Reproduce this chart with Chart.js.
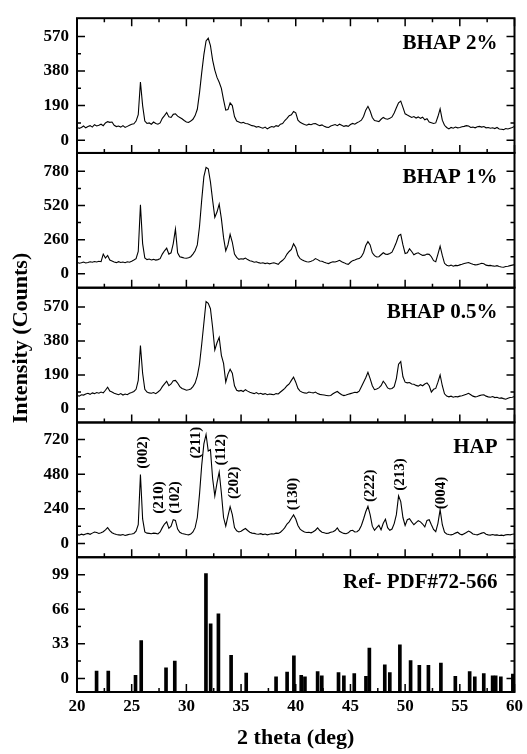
<!DOCTYPE html>
<html>
<head>
<meta charset="utf-8">
<title>XRD patterns</title>
<script src="https://cdn.jsdelivr.net/npm/chart.js@4.4.1/dist/chart.umd.min.js"></script>
<style>
  html, body { margin: 0; padding: 0; background: #fff; }
  #wrap { width: 527px; height: 754px; }
</style>
</head>
<body>
<div id="wrap"><canvas id="xrd" width="527" height="754"></canvas></div>
<script>
// scan grid (2 theta, deg)
const thetaStart = 20;
const thetaStep = 0.2;

// intensities, one value per 0.2 deg from 20 to 60
const bhap2 = [
  72, 65, 70, 78, 68, 75, 80, 72, 85, 78,
  82, 88, 80, 95, 102, 98, 100, 82, 75, 78,
  72, 80, 70, 76, 82, 88, 90, 105, 140, 320,
  190, 105, 92, 95, 88, 100, 92, 88, 95, 120,
  135, 152, 128, 125, 142, 145, 132, 125, 118, 108,
  100, 98, 105, 115, 135, 170, 260, 370, 470, 545,
  560, 520, 440, 385, 345, 318, 285, 222, 165, 168,
  205, 190, 130, 105, 100, 95, 98, 92, 90, 85,
  80, 78, 72, 75, 70, 66, 72, 62, 70, 75,
  72, 80, 76, 88, 92, 108, 120, 135, 140, 158,
  150, 110, 98, 92, 86, 82, 88, 85, 90, 92,
  85, 80, 84, 76, 72, 70, 78, 82, 86, 80,
  88, 82, 76, 80, 76, 86, 92, 88, 96, 102,
  110, 130, 165, 186, 160, 125, 108, 105, 102, 115,
  125, 118, 115, 120, 128, 150, 178, 205, 215, 180,
  145, 138, 132, 125, 130, 122, 128, 120, 126, 112,
  118, 100, 96, 92, 95, 130, 172, 110, 82, 70,
  62, 70, 66, 72, 68, 70, 74, 76, 80, 78,
  70, 72, 68, 74, 76, 72, 75, 68, 70, 66,
  68, 64, 70, 62, 60, 58, 64, 62, 66, 70,
  76
];

const bhap1 = [
  88, 80, 84, 90, 82, 86, 92, 88, 94, 90,
  95, 92, 150, 120, 140, 105, 98, 90, 85, 92,
  86, 90, 84, 92, 88, 96, 105, 115, 170, 525,
  230, 120, 108, 112, 105, 110, 104, 108, 115, 150,
  175, 195, 150, 160, 230, 340, 160, 130, 125, 120,
  118, 122, 130, 150, 175, 220, 360, 560, 740, 810,
  800, 700, 560, 430, 470, 530, 420, 275, 175, 220,
  300, 240, 150, 125, 110, 115, 112, 120, 108, 100,
  95, 88, 92, 85, 80, 84, 78, 82, 76, 80,
  84, 78, 72, 90, 103, 120, 150, 170, 185, 228,
  200, 140, 115, 105, 98, 92, 90, 95, 102, 116,
  108, 98, 95, 88, 82, 78, 86, 92, 90, 96,
  103, 92, 85, 76, 72, 88, 100, 105, 112, 116,
  130, 160, 215, 245, 220, 160, 138, 128, 130, 145,
  160, 150, 148, 155, 165, 200, 240, 290, 300, 220,
  155, 160, 190, 170, 145, 155, 160, 148, 140, 142,
  150, 148, 130, 100, 92, 150, 210, 140, 80, 65,
  60, 66, 58, 64, 62, 68, 72, 78, 82, 86,
  78, 72, 68, 70, 74, 80, 76, 66, 62, 64,
  60, 58, 62, 56, 52, 50, 55, 58, 62, 66,
  70
];

const bhap05 = [
  76, 72, 80, 78, 84, 88, 82, 90, 86, 92,
  88, 95, 90, 105, 122, 100, 95, 88, 84, 80,
  86, 78, 84, 80, 88, 92, 98, 110, 160, 355,
  200, 110, 95, 90, 88, 92, 86, 95, 105, 125,
  140, 155, 130, 140, 158, 160, 145, 125, 115, 110,
  105, 108, 112, 125, 145, 185, 250, 360, 480, 600,
  590, 560, 455, 330, 370, 400, 300, 255, 150, 195,
  222, 200, 130, 105, 100, 104, 98, 108, 100, 94,
  90, 86, 92, 84, 88, 82, 86, 80, 84, 82,
  80, 86, 84, 95, 105, 115, 130, 140, 160, 178,
  150, 115, 100, 94, 90, 88, 95, 92, 90, 95,
  86, 82, 80, 78, 76, 74, 76, 85, 92, 98,
  88, 80, 75, 78, 82, 86, 90, 94, 92, 100,
  125, 150, 175, 205, 170, 130, 108, 112, 118, 130,
  155, 140, 118, 112, 115, 125, 170, 250, 265, 180,
  150, 146, 148, 140, 138, 132, 128, 136, 130, 140,
  146, 130, 95, 110, 115, 150, 190, 130, 85, 72,
  68, 72, 66, 70, 68, 72, 74, 78, 82, 88,
  80, 72, 68, 70, 75, 78, 80, 72, 68, 66,
  70, 64, 66, 60, 62, 58, 55, 60, 64, 66,
  70
];

const hap = [
  62, 58, 65, 60, 66, 70, 64, 72, 80, 76,
  70, 75, 82, 95, 110, 90, 75, 68, 62, 60,
  58, 62, 56, 60, 64, 66, 70, 85, 130, 478,
  170, 80, 72, 70, 68, 72, 70, 66, 80, 110,
  135, 150, 105, 120, 165, 160, 100, 78, 70, 66,
  62, 60, 65, 80, 110, 180, 340, 540, 690, 755,
  640, 650, 450, 330, 420, 495, 350, 180, 120, 190,
  255, 200, 110, 88, 80, 85, 95, 104, 90, 78,
  72, 70, 66, 64, 68, 62, 66, 60, 64, 68,
  66, 72, 70, 78, 92, 110, 135, 150, 175, 198,
  170, 125, 100, 88, 80, 76, 78, 74, 82, 92,
  108, 90, 78, 74, 70, 72, 78, 82, 90, 108,
  85, 76, 70, 68, 74, 88, 92, 80, 82, 95,
  125, 170, 220, 258, 200, 120, 92, 110, 126, 95,
  140, 168, 110, 92, 100, 138, 200, 330, 290, 180,
  125, 165, 172, 150, 130, 145, 158, 150, 135, 115,
  160, 165, 130, 98, 82, 140, 235, 130, 78, 66,
  62, 60, 64, 72, 78, 66, 60, 68, 76, 86,
  78, 66, 62, 60, 66, 72, 76, 64, 60, 58,
  62, 58, 60, 56, 58, 55, 60, 62, 60, 64,
  66
];

// reference pattern PDF#72-566 (relative intensity)
const refTheta = [21.79, 22.86, 25.35, 25.87, 28.14, 28.94, 31.79, 32.22, 32.93, 34.09,
  35.47, 38.2, 39.21, 39.83, 40.5, 40.84, 42.0, 42.38, 43.91, 44.4,
  45.35, 46.42, 46.73, 48.14, 48.6, 49.52, 50.5, 51.3, 52.13, 53.27,
  54.59, 55.9, 56.37, 57.19, 58.0, 58.28, 58.75, 59.85];
const refIntensity = [7, 7, 3, 36, 10, 16.5, 100, 52, 61.5, 22,
  5, 1.5, 6, 21.5, 3, 1.5, 6.5, 2.5, 5.5, 2.5,
  4.5, 2, 29, 13, 5.5, 32, 17, 12.5, 12.5, 14.5,
  2, 6.5, 1.5, 4.5, 2.5, 2.5, 1.5, 4];

// Miller indices marked on the HAP pattern
const hklLabels = ['(002)', '(210)', '(102)', '(211)', '(112)', '(202)', '(130)', '(222)', '(213)', '(004)'];
const hklTheta = [26.0, 27.55, 28.95, 30.93, 33.2, 34.35, 39.74, 46.78, 49.5, 53.3];
const hklIntensity = [630, 319, 319, 698, 649, 420, 343, 400, 477, 350];

// tick labels
const xTicks = [20, 25, 30, 35, 40, 45, 50, 55, 60];
const bhap2Ticks = [0, 190, 380, 570];
const bhap1Ticks = [0, 260, 520, 780];
const bhap05Ticks = [0, 190, 380, 570];
const hapTicks = [0, 240, 480, 720];
const refTicks = [0, 33, 66, 99];

const panelAxes = ['y2', 'y1', 'y05', 'yHap', 'yRef'];
const panelTitles = ['BHAP 2%', 'BHAP 1%', 'BHAP 0.5%', 'HAP', 'Ref- PDF#72-566'];
const panelTicks = [bhap2Ticks, bhap1Ticks, bhap05Ticks, hapTicks, refTicks];

const serif = "'Liberation Serif', 'Times New Roman', serif";
function boldSerif(size) {
  return { family: serif, size: size, weight: 'bold' };
}

function toPoints(values) {
  return values.map((v, i) => ({ x: +(thetaStart + i * thetaStep).toFixed(2), y: v }));
}

function panelAxis(min, max, ticks) {
  return {
    type: 'linear',
    position: 'left',
    stack: 'xrd',
    stackWeight: 1,
    min: min,
    max: max,
    afterBuildTicks: (scale) => { scale.ticks = ticks.map(v => ({ value: v })); },
    afterFit: (scale) => { scale.width = 77; },
    grid: { display: false, drawTicks: false },
    border: { display: false },
    ticks: { font: boldSerif(17), color: '#000', padding: 8, autoSkip: false }
  };
}

// frames and inward tick marks of every panel
const framePlugin = {
  id: 'frames',
  afterDraw(chart) {
    const ctx = chart.ctx;
    const xs = chart.scales.x;
    const left = xs.left, right = xs.right;
    ctx.save();
    ctx.strokeStyle = '#000';
    panelAxes.forEach((id, p) => {
      const ys = chart.scales[id];
      const top = ys.top, bottom = ys.bottom;
      const yt = panelTicks[p];
      const step = yt[1] - yt[0];
      const marks = [[yt[0] - step / 2, 4]];
      yt.forEach(v => { marks.push([v, 8]); marks.push([v + step / 2, 4]); });

      ctx.lineWidth = 1.5;
      ctx.beginPath();
      marks.forEach(([v, len]) => {
        const py = ys.getPixelForValue(v);
        if (py < top + 3 || py > bottom - 3) return;
        ctx.moveTo(left, py); ctx.lineTo(left + len, py);
        ctx.moveTo(right, py); ctx.lineTo(right - len, py);
      });
      xTicks.forEach((v, i) => {
        const px = xs.getPixelForValue(v);
        ctx.moveTo(px, bottom); ctx.lineTo(px, bottom - 8);
        if (p === 0) { ctx.moveTo(px, top); ctx.lineTo(px, top + 8); }
        if (i < xTicks.length - 1) {
          const mx = xs.getPixelForValue((v + xTicks[i + 1]) / 2);
          ctx.moveTo(mx, bottom); ctx.lineTo(mx, bottom - 4);
          if (p === 0) { ctx.moveTo(mx, top); ctx.lineTo(mx, top + 4); }
        }
      });
      ctx.stroke();

      ctx.lineWidth = 2;
      ctx.strokeRect(left, top, right - left, bottom - top);
    });
    ctx.restore();
  }
};

// panel names, hkl labels and the shared y title
const textPlugin = {
  id: 'texts',
  afterDraw(chart) {
    const ctx = chart.ctx;
    const xs = chart.scales.x;
    const hs = chart.scales.yHap;
    ctx.save();
    ctx.fillStyle = '#000';
    ctx.textBaseline = 'middle';

    ctx.font = 'bold 21px ' + serif;
    ctx.textAlign = 'right';
    panelAxes.forEach((id, p) => {
      ctx.fillText(panelTitles[p], xs.right - 17, chart.scales[id].top + 25);
    });

    ctx.font = 'bold 15px ' + serif;
    ctx.textAlign = 'center';
    hklLabels.forEach((t, i) => {
      ctx.save();
      ctx.translate(xs.getPixelForValue(hklTheta[i]), hs.getPixelForValue(hklIntensity[i]));
      ctx.rotate(-Math.PI / 2);
      ctx.fillText(t, 0, 0);
      ctx.restore();
    });

    ctx.font = 'bold 22px ' + serif;
    ctx.translate(21, 338);
    ctx.rotate(-Math.PI / 2);
    ctx.fillText('Intensity (Counts)', 0, 0);
    ctx.restore();
  }
};

function lineSet(values, axis) {
  return {
    type: 'line',
    data: toPoints(values),
    yAxisID: axis,
    borderColor: '#000',
    borderWidth: 1.1,
    pointRadius: 0,
    tension: 0,
    fill: false
  };
}

const ctx = document.getElementById('xrd').getContext('2d');
const chart = new Chart(ctx, {
  type: 'line',
  data: {
    datasets: [
      lineSet(bhap2, 'y2'),
      lineSet(bhap1, 'y1'),
      lineSet(bhap05, 'y05'),
      lineSet(hap, 'yHap'),
      {
        type: 'bar',
        data: refTheta.map((t, i) => ({ x: t, y: refIntensity[i] })),
        yAxisID: 'yRef',
        base: -13,
        backgroundColor: '#000',
        barThickness: 3,
        borderWidth: 0
      }
    ]
  },
  options: {
    responsive: false,
    animation: false,
    events: [],
    layout: { padding: { top: 14, right: 11, left: 0, bottom: 0 } },
    plugins: {
      legend: { display: false },
      tooltip: { enabled: false }
    },
    scales: {
      x: {
        type: 'linear',
        position: 'bottom',
        offset: false,
        min: 20,
        max: 60,
        afterBuildTicks: (scale) => { scale.ticks = xTicks.map(v => ({ value: v })); },
        afterFit: (scale) => { scale.height = 62; },
        grid: { display: false, drawTicks: false, offset: false },
        border: { display: false },
        ticks: { font: boldSerif(17), color: '#000', padding: 4, maxRotation: 0, autoSkip: false },
        title: {
          display: true,
          text: '2 theta (deg)',
          font: boldSerif(22),
          color: '#000',
          padding: { top: 4, bottom: 2 }
        }
      },
      // defined bottom to top: later stacked axes are placed higher
      yRef: panelAxis(-13, 115.6, refTicks),
      yHap: panelAxis(-95, 838, hapTicks),
      y05: panelAxis(-75, 677, bhap05Ticks),
      y1: panelAxis(-106, 920, bhap1Ticks),
      y2: panelAxis(-70, 670, bhap2Ticks)
    }
  },
  plugins: [framePlugin, textPlugin]
});
</script>
</body>
</html>
